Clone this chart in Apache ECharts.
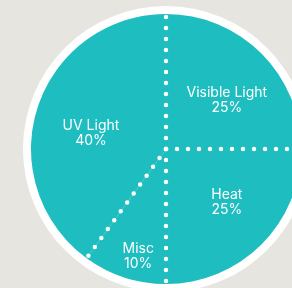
<!DOCTYPE html>
<html>
<head>
<meta charset="utf-8">
<script src="https://cdn.jsdelivr.net/npm/echarts@6/dist/echarts.min.js"></script>
<style>
  html, body { margin: 0; padding: 0; background: #e6e5df; }
  #chart { width: 292px; height: 288px; }
</style>
</head>
<body>
<div id="chart"></div>
<script>
  // slices, clockwise from 12 o'clock
  var categories = ['Visible Light', 'Heat', 'Misc', 'UV Light']
  var values = [25, 25, 10, 40]
  // nudge labels off the mid radius, as in the original
  var labelShift = [[11, 1], [11, 3], [-6, 40], [-8, 6]]

  var total = values.reduce(function (a, b) { return a + b }, 0)
  var bounds = []
  var acc = 0
  for (var i = 0; i < values.length; i++) {
    bounds.push(acc / total * 100)
    acc += values[i]
  }

  var center = [166, 149]
  var R = 135

  var chart = echarts.init(document.getElementById('chart'), null, { renderer: 'canvas' })

  var dotLines = bounds.map(function (b) {
    return {
      type: 'line',
      coordinateSystem: 'polar',
      clip: false,
      data: [[0, b], [1, b]],
      symbol: 'none',
      silent: true,
      animation: false,
      z: 5,
      lineStyle: { color: '#ffffff', width: 4.5, type: [0, 11], cap: 'round' }
    }
  })

  chart.setOption({
    backgroundColor: '#e6e5df',
    polar: { center: center, radius: R },
    angleAxis: { type: 'value', min: 0, max: 100, startAngle: 90, clockwise: true, show: false },
    radiusAxis: { type: 'value', min: 0, max: 1, show: false },
    series: [{
      // white rim
      type: 'pie',
      center: center,
      radius: R + 8,
      silent: true,
      animation: false,
      label: { show: false },
      itemStyle: { color: '#ffffff' },
      data: [{ name: '', value: 1 }],
      z: 1
    }, {
      type: 'pie',
      center: center,
      radius: R,
      startAngle: 90,
      clockwise: true,
      silent: true,
      animation: false,
      z: 2,
      itemStyle: { color: '#1ebdc0', borderWidth: 0 },
      label: {
        show: true,
        position: 'inside',
        formatter: '{b}\n{c}%',
        color: '#ffffff',
        fontFamily: 'Inter',
        fontSize: 14,
        lineHeight: 15,
        align: 'center'
      },
      labelLine: { show: false },
      labelLayout: function (p) {
        var s = labelShift[p.dataIndex]
        return { dx: s[0], dy: s[1] }
      },
      data: categories.map(function (c, i) { return { name: c, value: values[i] } })
    }].concat(dotLines)
  })
</script>
</body>
</html>
